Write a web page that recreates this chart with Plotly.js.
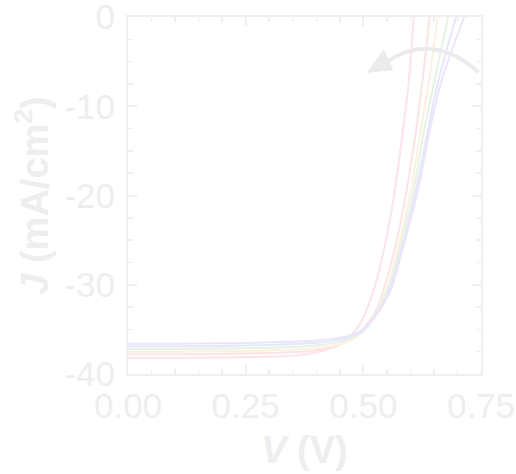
<!DOCTYPE html>
<html>
<head>
<meta charset="utf-8">
<script src="https://cdn.plot.ly/plotly-3.0.1.min.js"></script>
<style>html,body{margin:0;padding:0;background:#fff}</style>
</head>
<body>
<div id="chart" style="width:516px;height:474px"></div>
<script>
// Six J-V curves (V in volts, J in mA/cm2)
const v1 = [0, 0.1, 0.2, 0.3, 0.36, 0.40, 0.43, 0.45, 0.469, 0.494, 0.522, 0.548, 0.567, 0.584, 0.597, 0.607, 0.615];
const j1 = [-38.2, -38.2, -38.15, -38.05, -37.9, -37.6, -37.15, -36.7, -35.9, -34.3, -30.6, -25.0, -19.4, -12.7, -7.0, 0, 5];
const v2 = [0, 0.1, 0.2, 0.3, 0.38, 0.42, 0.45, 0.475, 0.494, 0.515, 0.530, 0.543, 0.569, 0.592, 0.612, 0.626, 0.641, 0.655];
const j2 = [-37.8, -37.8, -37.75, -37.65, -37.45, -37.15, -36.7, -36.0, -35.2, -33.9, -32.6, -30.6, -25.5, -19.4, -12.7, -7.0, 0, 6];
const v3 = [0, 0.1, 0.2, 0.3, 0.4, 0.45, 0.48, 0.50, 0.52, 0.535, 0.549, 0.576, 0.601, 0.622, 0.640, 0.658, 0.67];
const j3 = [-37.5, -37.5, -37.45, -37.35, -37.1, -36.65, -36.0, -35.2, -33.8, -32.5, -30.6, -25.5, -19.4, -12.7, -7.0, 0, 5];
const v4 = [0, 0.1, 0.2, 0.3, 0.4, 0.45, 0.48, 0.50, 0.52, 0.536, 0.552, 0.580, 0.607, 0.629, 0.652, 0.680, 0.70];
const j4 = [-37.2, -37.2, -37.15, -37.05, -36.8, -36.4, -35.85, -35.2, -33.9, -32.5, -30.6, -25.5, -19.4, -12.7, -7.0, 0, 5];
const v5 = [0, 0.1, 0.2, 0.3, 0.4, 0.45, 0.48, 0.50, 0.52, 0.538, 0.555, 0.584, 0.612, 0.637, 0.660, 0.697, 0.72];
const j5 = [-36.9, -36.9, -36.85, -36.75, -36.5, -36.15, -35.7, -35.1, -33.9, -32.5, -30.6, -25.5, -19.4, -12.7, -7.0, 0, 4];
const v6 = [0, 0.1, 0.2, 0.3, 0.4, 0.45, 0.48, 0.50, 0.52, 0.54, 0.558, 0.586, 0.616, 0.641, 0.667, 0.714, 0.74];
const j6 = [-36.6, -36.6, -36.55, -36.45, -36.25, -35.95, -35.5, -35.0, -33.9, -32.4, -30.6, -25.5, -19.4, -12.7, -7.0, 0, 4];

const curveV = [v1, v2, v3, v4, v5, v6];
const curveJ = [j1, j2, j3, j4, j5, j6];
const colors = ['#fde3ec', '#fbe4e4', '#fdf0e0', '#e6f3e3', '#e4e7fc', '#ebe4fb'];

const xTicks = [0, 0.25, 0.5, 0.75];
const xTickText = ['0.00', '0.25', '0.50', '0.75'];
const yTicks = [0, -10, -20, -30, -40];
const yTickText = ['0', '-10', '-20', '-30', '-40'];

const traces = curveV.map((v, i) => ({
  x: v, y: curveJ[i], type: 'scatter', mode: 'lines',
  line: {color: colors[i], width: 2, shape: 'spline', smoothing: 1},
  hoverinfo: 'skip', showlegend: false
}));

const faint = '#eeeeee';
const fontFam = '"Liberation Sans", Arial, sans-serif';

const axisCommon = {
  showgrid: false, zeroline: false, showline: true, linecolor: '#efefef', linewidth: 2,
  mirror: 'allticks', ticks: 'inside', ticklen: 9, tickwidth: 2, tickcolor: '#efefef',
  ticklabeloverflow: 'allow',
  tickfont: {family: fontFam, size: 35, color: faint}
};

const layout = {
  width: 516, height: 474,
  margin: {l: 128, r: 35, t: 17, b: 100},
  paper_bgcolor: '#ffffff', plot_bgcolor: '#ffffff',
  showlegend: false,
  xaxis: Object.assign({}, axisCommon, {
    range: [0, 0.75], tickvals: xTicks, ticktext: xTickText,
    minor: {dtick: 0.05, ticks: 'inside', ticklen: 5, tickwidth: 1.5, tickcolor: '#efefef', showgrid: false},
    title: {text: '<b><i>V</i> (V)</b>', font: {family: fontFam, size: 38, color: faint}, standoff: 12}
  }),
  yaxis: Object.assign({}, axisCommon, {
    range: [-40, 0], tickvals: yTicks, ticktext: yTickText,
    ticklabelstandoff: 4,
    minor: {dtick: 2.5, ticks: 'inside', ticklen: 5, tickwidth: 1.5, tickcolor: '#efefef', showgrid: false},
    title: {text: '<b><i>J</i> (mA/cm<sup>2</sup>)</b>', font: {family: fontFam, size: 38, color: faint}, standoff: 4}
  }),
  shapes: [
    {type: 'path', xref: 'x', yref: 'y',
     path: 'M 0.745,-6.2 Q 0.648,-1.6 0.550,-5.0',
     line: {color: '#ebebeb', width: 4}},
    {type: 'path', xref: 'x', yref: 'y',
     path: 'M 0.509,-6.2 L 0.543,-3.7 L 0.562,-5.9 Z',
     fillcolor: '#ebebeb', line: {color: '#ebebeb', width: 1}}
  ]
};

Plotly.newPlot('chart', traces, layout, {staticPlot: true, displayModeBar: false});
</script>
</body>
</html>
